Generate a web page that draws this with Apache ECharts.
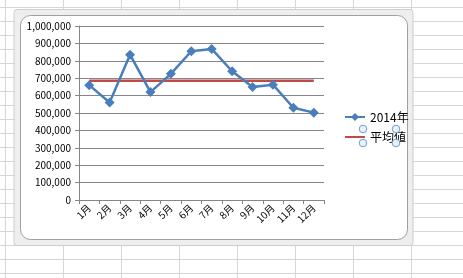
<!DOCTYPE html>
<html>
<head>
<meta charset="utf-8">
<script src="https://cdn.jsdelivr.net/npm/echarts@6/dist/echarts.min.js"></script>
<style>
html,body{margin:0;padding:0;background:#fff;}
#c{width:463px;height:278px;}
</style>
</head>
<body>
<div id="c"></div>
<script>
var categories = ['1月','2月','3月','4月','5月','6月','7月','8月','9月','10月','11月','12月'];
var sales2014 = [660000, 560000, 835000, 620000, 725000, 855000, 868000, 740000, 650000, 663000, 530000, 502000];
var averageValues = [686000, 686000, 686000, 686000, 686000, 686000, 686000, 686000, 686000, 686000, 686000, 686000];
var yTicks = [0, 100000, 200000, 300000, 400000, 500000, 600000, 700000, 800000, 900000, 1000000];

var font = '"Noto Sans CJK JP", "Noto Sans", sans-serif';

// spreadsheet background decoration
var bg = [];
var cellX = [5.5, 63.5, 121.5, 179.5, 237.5, 295.5, 353.5, 411.5];
for (var i = 0; i < cellX.length; i++) {
  bg.push({type:'line', z:-20, silent:true, shape:{x1:cellX[i], y1:0, x2:cellX[i], y2:278}, style:{stroke:'#d6d6d6', lineWidth:1}});
}
for (var y = 7.5; y < 278; y += 14) {
  bg.push({type:'line', z:-20, silent:true, shape:{x1:0, y1:y, x2:463, y2:y}, style:{stroke:'#d6d6d6', lineWidth:1}});
}
// chart frame
bg.push({type:'rect', z:-15, silent:true, shape:{x:14, y:9.5, width:399, height:236, r:3}, style:{fill:'#eeeeee', stroke:'#cdcdcd', lineWidth:1}});
bg.push({type:'rect', z:-14, silent:true, shape:{x:20.5, y:15.5, width:387, height:224, r:10}, style:{fill:'#ffffff', stroke:'#a0a0a0', lineWidth:1}});
// selection handles around legend text
var hs = [[363,129],[396,129],[363,143],[396,143]];
for (var j = 0; j < hs.length; j++) {
  bg.push({type:'circle', z:50, silent:true, shape:{cx:hs[j][0], cy:hs[j][1], r:3.8}, style:{fill:'#e8f0fa', stroke:'#6f9fce', lineWidth:1}});
}

var chart = echarts.init(document.getElementById('c'), null, {renderer:'canvas'});
chart.setOption({
  animation: false,
  backgroundColor: 'transparent',
  graphic: { elements: bg },
  grid: { left: 79, right: 139, top: 26, bottom: 78, containLabel: false },
  legend: {
    orient: 'vertical',
    left: 339,
    top: 106,
    itemWidth: 20,
    itemHeight: 10,
    itemGap: 8,
    textStyle: { fontFamily: font, fontSize: 12, color: '#000' },
    data: [
      { name: '2014年' },
      { name: '平均値', itemStyle: { color: 'rgba(0,0,0,0)', borderColor: 'rgba(0,0,0,0)', borderWidth: 0 } }
    ]
  },
  xAxis: {
    type: 'category',
    data: categories,
    boundaryGap: true,
    axisLine: { show: true, lineStyle: { color: '#868686', width: 1 } },
    axisTick: { show: true, length: 4, alignWithLabel: false, interval: 0, lineStyle: { color: '#868686' } },
    axisLabel: { interval: 0, rotate: 45, fontFamily: font, fontSize: 10, color: '#000', margin: 6 },
    splitLine: { show: false }
  },
  yAxis: {
    type: 'value',
    min: yTicks[0],
    max: yTicks[yTicks.length - 1],
    interval: yTicks[1] - yTicks[0],
    axisLine: { show: true, lineStyle: { color: '#868686', width: 1 } },
    axisTick: { show: true, length: 4, inside: false, lineStyle: { color: '#868686' } },
    axisLabel: {
      fontFamily: font, fontSize: 10, color: '#000', margin: 8,
      formatter: function (v) { return v.toString().replace(/\B(?=(\d{3})+(?!\d))/g, ','); }
    },
    splitLine: { show: true, lineStyle: { color: '#868686', width: 1 } }
  },
  series: [
    {
      name: '2014年',
      type: 'line',
      data: sales2014,
      symbol: 'diamond',
      symbolSize: 10,
      color: '#4a7ebb',
      lineStyle: { width: 2.5, color: '#4a7ebb' },
      itemStyle: { color: '#4a7ebb' },
      z: 3
    },
    {
      name: '平均値',
      type: 'line',
      data: averageValues,
      symbol: 'none',
      color: '#be4b48',
      lineStyle: { width: 2.5, color: '#be4b48' },
      z: 2
    }
  ]
});
</script>
</body>
</html>
